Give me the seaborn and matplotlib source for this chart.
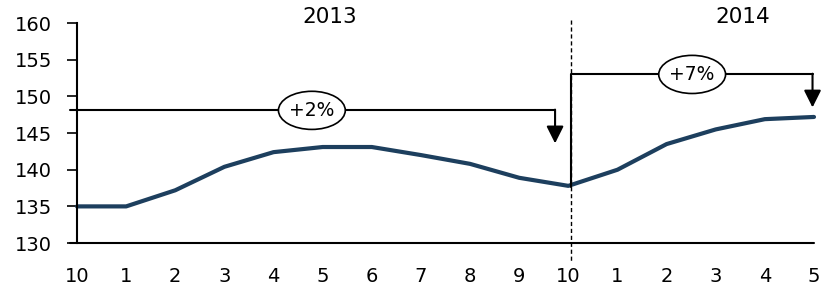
import numpy as np
import pandas as pd
import matplotlib
matplotlib.use("Agg")
import matplotlib.pyplot as plt
from matplotlib.patches import Ellipse
import seaborn as sns

# data
months = ["10", "1", "2", "3", "4", "5", "6", "7", "8", "9", "10", "1", "2", "3", "4", "5"]
values = [135.0, 135.0, 137.2, 140.4, 142.4, 143.1, 143.1, 142.0, 140.8, 138.9,
          137.8, 140.0, 143.5, 145.5, 146.9, 147.2]
years = ["2013", "2014"]
changes = ["+2%", "+7%"]

df = pd.DataFrame({"idx": np.arange(len(values)), "value": values})

sns.set_style("white")
plt.rcParams["font.family"] = ["DejaVu Sans"]

fig = plt.figure(figsize=(8.29, 2.89), dpi=100)
ax = fig.add_axes([0.0929, 0.159, 0.889, 0.761])

sns.lineplot(data=df, x="idx", y="value", color="#1d3f5e", linewidth=3.0, ax=ax,
             clip_on=False, solid_capstyle="round")

ax.set_xlim(0, 15)
ax.set_ylim(130, 160)
ax.set_yticks(range(130, 161, 5))
ax.set_xticks(df["idx"])
ax.set_xticklabels(months)
ax.set_xlabel("")
ax.set_ylabel("")
ax.tick_params(axis="y", length=7, width=1.2, color="black", labelcolor="black",
               labelsize=14, pad=11, left=True)
ax.tick_params(axis="x", length=0, labelsize=14, labelcolor="black", pad=17)

for s in ["top", "right"]:
    ax.spines[s].set_visible(False)
ax.spines["left"].set_color("black")
ax.spines["left"].set_linewidth(1.5)
ax.spines["bottom"].set_visible(False)
ax.plot([-0.15, 15], [130, 130], color="black", lw=1.5, clip_on=False, zorder=1)

# divider between the years
ax.plot([10.06, 10.06], [160.4, 127.5], color="black", lw=1, ls=(0, (3, 2)), clip_on=False)

# year labels
ax.text(5.15, 160.9, years[0], ha="center", va="center", fontsize=15.5, color="black")
ax.text(13.54, 160.9, years[1], ha="center", va="center", fontsize=15.5, color="black")


def bubble(x, y, label):
    ax.add_patch(Ellipse((x, y), 1.36, 5.2, fc="white", ec="black", lw=1.2,
                         clip_on=False, zorder=4))
    ax.text(x, y, label, ha="center", va="center", fontsize=13.5, color="black", zorder=5)


# bracket 1
ax.plot([-0.15, 9.73], [148.1, 148.1], color="black", lw=1.5, clip_on=False)
ax.annotate("", xy=(9.73, 143.6), xytext=(9.73, 148.2),
            arrowprops=dict(arrowstyle="-|>", color="black", lw=1.5, mutation_scale=26,
                            shrinkA=0, shrinkB=0))
bubble(4.78, 148.1, changes[0])

# bracket 2
ax.plot([10.06, 10.06, 14.97], [137.7, 153.0, 153.0], color="black", lw=1.5, clip_on=False)
ax.annotate("", xy=(14.97, 148.5), xytext=(14.97, 153.1),
            arrowprops=dict(arrowstyle="-|>", color="black", lw=1.5, mutation_scale=26,
                            shrinkA=0, shrinkB=0))
bubble(12.52, 153.0, changes[1])

fig.savefig("out.png", dpi=100)
